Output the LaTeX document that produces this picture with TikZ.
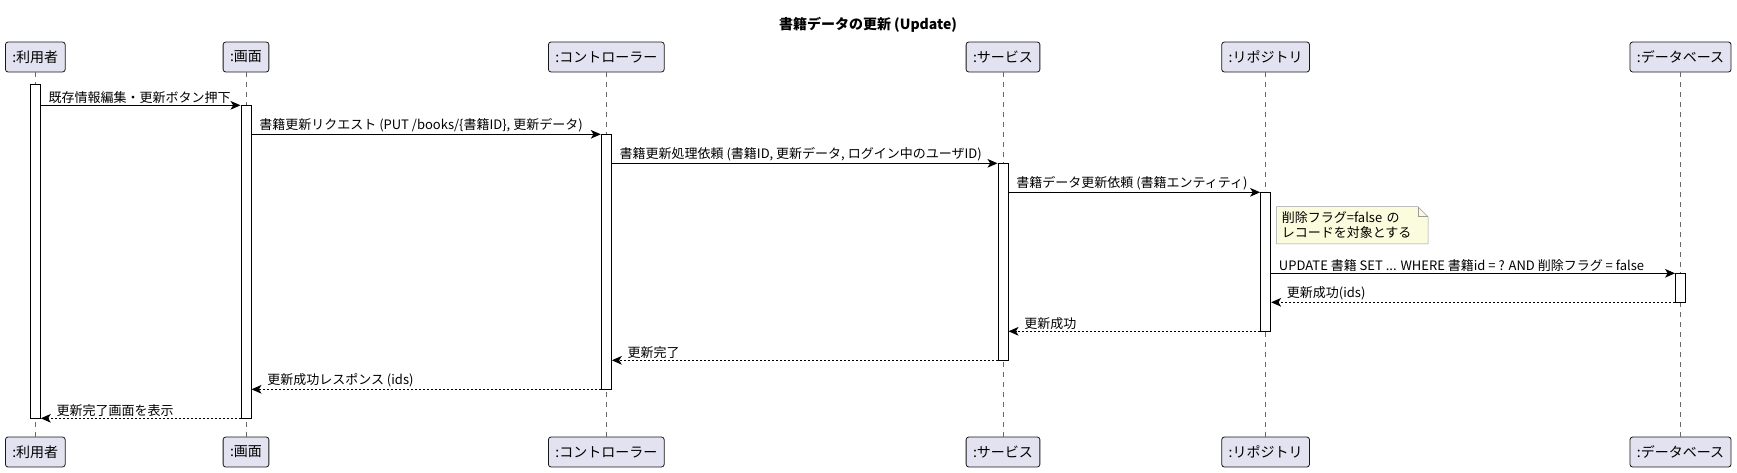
\documentclass[tikz,border=0pt]{standalone}
\usepackage{fontspec}
\setmainfont{Noto Sans CJK JP}
\usepackage{tikz}
\usetikzlibrary{arrows.meta,backgrounds}

\definecolor{partfill}{HTML}{E2E2F0}
\definecolor{partline}{HTML}{181818}
\definecolor{notefill}{HTML}{FBFBDD}
\definecolor{noteline}{HTML}{9A9A9A}

\tikzset{
  part/.style={draw=partline, fill=partfill, line width=0.6pt, rounded corners=2pt,
    minimum height=22.5pt, inner xsep=5.2pt, font=\fontsize{10.5}{12}\selectfont},
  life/.style={draw=partline!65, line width=0.4pt, dash pattern=on 3.75pt off 3.75pt},
  act/.style={draw=black, fill=white, line width=0.75pt, inner sep=0pt, minimum width=7.5pt},
  msg/.style={-{Stealth[length=7.5pt,width=6.5pt,inset=2pt]}, line width=0.75pt},
  ret/.style={msg, dash pattern=on 1.5pt off 1.5pt},
  lbl/.style={font=\fontsize{9.75}{11.5}\selectfont, inner sep=1pt},
}

% activation bar: name, x, top y, bottom y (in px)
\newcommand{\actbar}[4]{\node[act, minimum height={(#4-#3)*0.75pt}] (#1) at (#2,{(#3+#4)/2}) {};}

\begin{document}
\begin{tikzpicture}[x=0.75pt, y=-0.75pt]
    \useasboundingbox (0,0) rectangle (1737,472);

    % Title
    \node[font=\bfseries\fontsize{10.5}{12}\selectfont] (title) at (868,25) {書籍データの更新 (Update)};

    % Participants (top and bottom) with lifelines
    \foreach \id/\x/\txt in {U/35.3/:利用者, G/246/:画面, C/606.3/:コントローラー,
                             S/1003/:サービス, R/1265.6/:リポジトリ, D/1680.5/:データベース} {
        \node[part] (\id-top) at (\x,57) {\txt};
        \node[part] (\id-bot) at (\x,452) {\txt};
        \draw[life] (\id-top) -- (\id-bot);
    }

    % Activation bars
    \actbar{aU}{35.3}{84.3}{418.3}
    \actbar{aG}{246}{105.3}{418.3}
    \actbar{aC}{606.3}{134.3}{389.3}
    \actbar{aS}{1003}{163.3}{360.3}
    \actbar{aR}{1265.6}{192.3}{331.3}
    \actbar{aD}{1680.5}{273.3}{302.3}

    % Requests
    \draw[msg] (aU.east |- 0,105.3) -- (aG.west |- 0,105.3)
        node[lbl, pos=0, anchor=south west, xshift=4.5pt] {既存情報編集・更新ボタン押下};
    \draw[msg] (aG.east |- 0,134.3) -- (aC.west |- 0,134.3)
        node[lbl, pos=0, anchor=south west, xshift=4.5pt] {書籍更新リクエスト (PUT /books/\{書籍ID\}, 更新データ)};
    \draw[msg] (aC.east |- 0,163.3) -- (aS.west |- 0,163.3)
        node[lbl, pos=0, anchor=south west, xshift=4.5pt] {書籍更新処理依頼 (書籍ID, 更新データ, ログイン中のユーザID)};
    \draw[msg] (aS.east |- 0,192.3) -- (aR.west |- 0,192.3)
        node[lbl, pos=0, anchor=south west, xshift=4.5pt] {書籍データ更新依頼 (書籍エンティティ)};

    % Note on the repository
    \node[lbl, align=left, text width=105.75pt, inner xsep=3.75pt, inner ysep=3.5pt,
          anchor=north west] (note) at (1276.5,206.7) {削除フラグ=false の\\レコードを対象とする};
    \begin{scope}[on background layer]
        \draw[noteline, fill=notefill] (note.north west) -- ([xshift=-7.5pt]note.north east)
            -- ([yshift=-7.5pt]note.north east) -- (note.south east) -- (note.south west) -- cycle;
    \end{scope}
    \draw[noteline] ([xshift=-7.5pt]note.north east) |- ([yshift=-7.5pt]note.north east);

    \draw[msg] (aR.east |- 0,273.3) -- (aD.west |- 0,273.3)
        node[lbl, pos=0, anchor=south west, xshift=4.5pt] {UPDATE 書籍 SET ... WHERE 書籍id = ? AND 削除フラグ = false};

    % Returns
    \draw[ret] (aD.west |- 0,302.3) -- (aR.east |- 0,302.3)
        node[lbl, pos=1, anchor=south west, xshift=10.5pt] {更新成功(ids)};
    \draw[ret] (aR.west |- 0,331.3) -- (aS.east |- 0,331.3)
        node[lbl, pos=1, anchor=south west, xshift=10.5pt] {更新成功};
    \draw[ret] (aS.west |- 0,360.3) -- (aC.east |- 0,360.3)
        node[lbl, pos=1, anchor=south west, xshift=10.5pt] {更新完了};
    \draw[ret] (aC.west |- 0,389.3) -- (aG.east |- 0,389.3)
        node[lbl, pos=1, anchor=south west, xshift=10.5pt] {更新成功レスポンス (ids)};
    \draw[ret] (aG.west |- 0,418.3) -- (aU.east |- 0,418.3)
        node[lbl, pos=1, anchor=south west, xshift=10.5pt] {更新完了画面を表示};
\end{tikzpicture}
\end{document}
